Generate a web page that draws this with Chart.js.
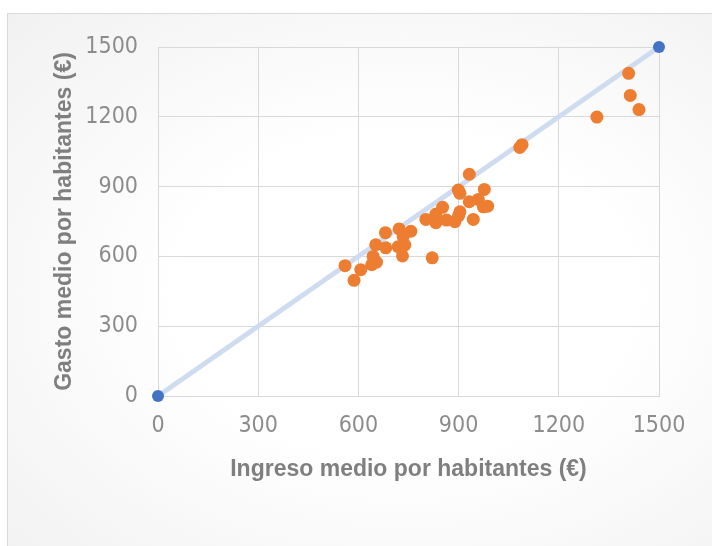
<!DOCTYPE html>
<html>
<head>
<meta charset="utf-8">
<script src="https://cdn.jsdelivr.net/npm/chart.js@4/dist/chart.umd.min.js"></script>
<style>
  html, body { margin: 0; padding: 0; background: #fff; }
  #panel {
    position: absolute; left: 7px; top: 13px; width: 720px; height: 560px;
    border: 1px solid #d9d9d9;
    background: radial-gradient(ellipse at 55% 50%, #ffffff 40%, #f1f1f1 100%);
  }
  #wrap { position: absolute; left: 0; top: 0; width: 712px; height: 546px; }
</style>
</head>
<body>
<div id="panel"></div>
<div id="wrap"><canvas id="chart" width="712" height="546"></canvas></div>
<script>
// Ingreso medio (x) and gasto medio (y) per habitante
const ingreso = [560, 607, 587, 652, 681, 682, 644, 640, 654, 722, 757, 734, 719, 739, 732,
                 821, 802, 832, 852, 832, 864, 889, 904, 944, 899, 904, 932, 932, 959, 977,
                 974, 987, 900, 1083, 1090, 1314, 1409, 1414, 1440];
const gasto   = [560, 543, 497, 650, 702, 637, 600, 565, 575, 718, 708, 685, 642, 649, 602,
                 594, 759, 782, 811, 745, 756, 749, 792, 759, 885, 871, 953, 835, 845, 888,
                 813, 816, 775, 1068, 1080, 1199, 1387, 1292, 1231];
// reference line y = x
const refX = [0, 1500];
const refY = [0, 1500];
const ticks = [0, 300, 600, 900, 1200, 1500];

const tickFont = { family: "'DejaVu Sans Condensed', 'Liberation Sans', sans-serif", size: 23 };
const titleFont = { family: "'Liberation Sans', sans-serif", size: 23, weight: 'bold' };

new Chart(document.getElementById('chart'), {
  type: 'scatter',
  data: {
    datasets: [
      {
        data: ingreso.map((x, i) => ({ x, y: gasto[i] })),
        backgroundColor: '#ed7d31',
        borderColor: '#ed7d31',
        pointRadius: 6.5,
        pointBorderWidth: 0,
        clip: false,
        order: 1
      },
      {
        data: refX.map((x, i) => ({ x, y: refY[i] })),
        showLine: true,
        borderColor: '#cfdcf0',
        borderWidth: 5,
        pointBackgroundColor: '#4472c4',
        pointBorderWidth: 0,
        pointRadius: 6,
        clip: false,
        order: 2
      }
    ]
  },
  options: {
    responsive: false,
    animation: false,
    layout: { padding: { left: 0, top: 47, right: 53, bottom: 0 } },
    plugins: { legend: { display: false }, tooltip: { enabled: false } },
    scales: {
      x: {
        type: 'linear', min: 0, max: 1500,
        afterBuildTicks: s => { s.ticks = ticks.map(v => ({ value: v })); },
        afterFit: s => { s.height = 150; },
        grid: { color: '#d9d9d9', lineWidth: 1, drawTicks: false },
        border: { color: '#d9d9d9' },
        ticks: { color: '#8c8c8c', font: tickFont, padding: 16, callback: v => String(v) },
        title: { display: true, text: 'Ingreso medio por habitantes (€)', color: '#7f7f7f',
                 font: titleFont, padding: { top: 0, bottom: 63 } }
      },
      y: {
        type: 'linear', min: 0, max: 1500,
        afterBuildTicks: s => { s.ticks = ticks.map(v => ({ value: v })); },
        afterFit: s => { s.width = 158; },
        grid: { color: '#d9d9d9', lineWidth: 1, drawTicks: false },
        border: { color: '#d9d9d9' },
        ticks: { color: '#8c8c8c', font: tickFont, padding: 20, callback: v => String(v) },
        title: { display: true, text: 'Gasto medio por habitantes (€)', color: '#7f7f7f',
                 font: titleFont, padding: { top: 51, bottom: 0 } }
      }
    }
  }
});
</script>
</body>
</html>
